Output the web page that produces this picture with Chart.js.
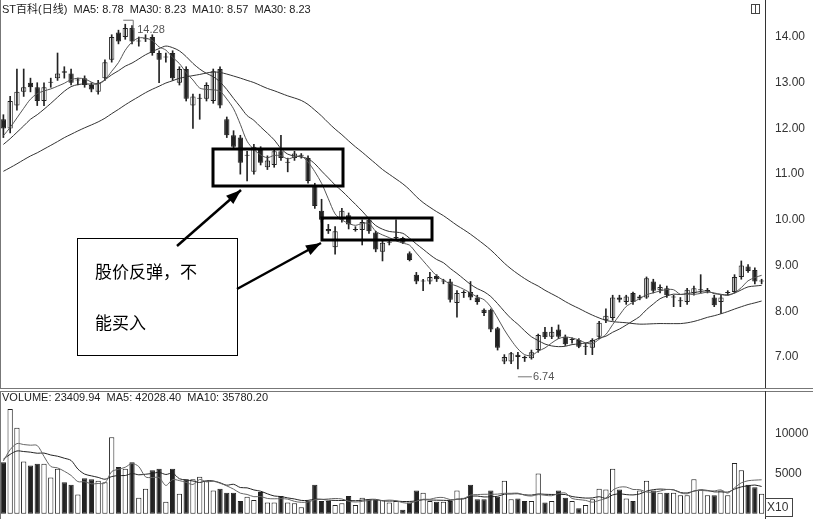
<!DOCTYPE html>
<html><head><meta charset="utf-8">
<script src="https://cdn.jsdelivr.net/npm/chart.js@4"></script>
<style>
body{margin:0;background:#fff;width:813px;height:519px;overflow:hidden;font-family:"Liberation Sans",Arial,sans-serif}
#top{position:absolute;left:0;top:0;width:813px;height:388px}
#bot{position:absolute;left:0;top:391px;width:813px;height:128px}
.sep{position:absolute;left:0;width:813px;height:1px;background:#777}
</style></head><body>
<div id="top"><canvas id="c1"></canvas></div>
<div class="sep" style="top:388px"></div><div class="sep" style="top:391px"></div>
<div id="bot"><canvas id="c2"></canvas></div>
<script>
// candles: open / close / high / low
let opens  = [12.2,12.0,12.5,12.8,13.0,12.9,12.6,13.0,13.1,13.25,13.2,13.05,13.1,12.95,12.8,13.1,13.5,14.1,14.0,14.2,13.9,13.95,14.0,13.65,13.55,13.65,13.0,13.3,12.5,12.65,12.65,12.6,13.3,12.2,11.85,11.8,11.4,11.05,11.55,11.15,11.2,11.5,11.25,11.35,11.4,11.35,10.75,10.2,9.8,9.4,10.0,10.1,9.78,9.78,10.0,9.72,9.3,9.5,9.6,9.6,9.27,8.8,8.65,8.65,8.77,8.65,8.65,8.18,8.4,8.42,8.3,8.03,8.03,7.63,6.9,6.9,7.05,7.0,6.97,7.15,7.55,7.44,7.6,7.44,7.37,7.37,7.22,7.2,7.44,7.8,7.85,8.3,8.2,8.4,8.28,8.3,8.65,8.46,8.5,8.3,8.22,8.2,8.4,8.46,8.44,8.3,8.2,8.4,8.42,8.75,8.98,8.9,8.65];
let closes = [12.0,12.6,12.8,12.9,12.9,12.6,12.9,13.02,13.2,13.22,13.0,13.05,12.95,12.85,13.0,13.45,14.0,13.9,14.2,13.9,13.9,13.97,13.65,13.5,13.55,13.1,13.3,12.65,12.7,12.67,12.95,13.25,12.5,11.85,11.6,11.25,11.4,11.6,11.25,11.3,11.5,11.35,11.27,11.45,11.4,10.85,10.3,10.0,9.75,9.75,10.2,9.9,9.8,9.95,9.75,9.35,9.5,9.5,9.6,9.5,9.12,8.65,8.65,8.75,8.7,8.65,8.25,8.4,8.4,8.3,8.2,7.96,7.6,7.2,7.0,7.08,7.0,6.97,7.1,7.48,7.43,7.55,7.44,7.28,7.37,7.22,7.22,7.37,7.75,7.9,8.3,8.25,8.32,8.2,8.32,8.72,8.45,8.53,8.35,8.3,8.22,8.47,8.5,8.46,8.44,8.13,8.3,8.4,8.75,9.0,8.88,8.65,8.65];
let highs  = [12.3,12.7,13.3,13.3,13.1,13.0,13.0,13.1,13.65,13.35,13.3,13.1,13.15,13.0,13.05,13.5,14.05,14.15,14.28,14.25,14.0,14.05,14.05,13.7,13.65,13.7,13.35,13.35,12.75,12.75,13.0,13.3,13.35,12.25,11.95,11.85,11.5,11.65,11.6,11.4,11.55,11.85,11.35,11.5,11.45,11.4,10.8,10.45,9.9,9.85,10.25,10.15,9.85,10.0,10.05,9.75,9.55,9.55,10.0,9.62,9.3,8.85,8.7,8.85,8.8,8.7,8.7,8.45,8.45,8.65,8.35,8.05,8.05,7.65,7.05,7.1,7.1,7.02,7.15,7.5,7.65,7.65,7.7,7.48,7.42,7.4,7.3,7.4,7.78,8.05,8.35,8.35,8.35,8.42,8.35,8.75,8.7,8.58,8.55,8.35,8.3,8.5,8.55,8.8,8.5,8.35,8.35,8.45,8.8,9.1,9.02,8.95,8.7];
let lows   = [11.8,11.9,12.4,12.7,12.8,12.5,12.5,12.9,13.05,13.1,12.95,12.95,12.9,12.8,12.75,13.05,13.45,13.85,13.95,13.85,13.8,13.9,13.6,13.0,13.45,13.05,12.95,12.6,12.0,12.2,12.6,12.55,12.45,11.8,11.55,11.0,10.85,11.0,11.2,11.1,11.15,11.3,11.05,11.3,11.35,10.8,10.25,9.95,9.7,9.25,9.95,9.8,9.75,9.45,9.7,9.3,9.1,9.45,9.55,9.48,9.1,8.6,8.45,8.6,8.65,8.6,8.2,7.87,8.3,8.25,8.15,7.9,7.55,7.15,6.85,6.85,6.74,6.9,6.95,7.1,7.4,7.4,7.4,7.25,7.3,7.2,7.05,7.05,7.4,7.75,7.8,8.2,8.15,8.15,8.25,8.28,8.4,8.4,8.3,8.1,8.1,8.15,8.35,8.4,8.4,8.1,7.95,8.35,8.4,8.7,8.85,8.6,8.6];
// closes before the first shown day, only used to start the moving averages
let earlierCloses = [10.2,10.3,10.25,10.4,10.5,10.45,10.6,10.7,10.65,10.8,10.85,10.9,10.95,11.0,11.05,11.0,11.1,11.2,11.15,11.3,11.35,11.4,11.5,11.45,11.6,11.7,11.75,11.85,11.9];
// volume (x10)
let volumes = [6400,13000,10700,6500,6000,6200,6200,4500,5600,3900,3600,2400,4400,4300,4100,3900,9500,5800,5600,6400,2000,3100,5400,5600,1500,5600,2500,4300,4300,4600,4100,2900,3100,2600,2600,1600,2100,1700,2700,1400,1400,2200,1400,1300,800,1600,3600,1600,1600,1100,1300,2200,1100,2000,1700,1700,1700,1400,1600,500,1400,2900,2600,1600,1500,1500,1600,2900,2000,3600,1800,1800,2900,2100,4100,1800,1900,1600,1600,5000,1400,1600,2900,2000,1600,700,1100,1800,3100,3000,5600,3000,1900,1600,2900,4100,2900,2600,2600,2600,2300,2300,4300,3000,2300,2300,2900,2300,6300,5400,3600,3300,2500];
let earlierVolumes = [7000,6500,7200,6800,7500,6000,6900,7100,6400];
let priceTicks = [7,8,9,10,11,12,13,14];
let volumeTicks = [5000,10000];

let labels = closes.map((c, i) => "d" + i);

function movingAvg(vals, before, n) {
  let all = before.concat(vals);
  return vals.map((v, i) => {
    let end = before.length + i + 1;
    let part = all.slice(Math.max(0, end - n), end);
    return part.reduce((a, b) => a + b, 0) / part.length;
  });
}

let up = closes.map((c, i) => c >= opens[i]);
let fill = up.map(u => u ? "#fff" : "#222");

let rightAxis = {
  position: "right",
  grid: { display: false, drawTicks: true, tickLength: 4, tickColor: "#333" },
  border: { color: "#333" },
  ticks: { color: "#333", font: { family: "Liberation Sans", size: 12 }, padding: 6 },
  afterFit: (s) => { s.width = 48; s.paddingTop = 0; s.paddingBottom = 0; }
};

let overlay = {
  id: "overlay",
  afterDraw(chart) {
    let ctx = chart.ctx, x = chart.scales.x, y = chart.scales.y;
    ctx.save();
    ctx.fillStyle = "#222";
    ctx.font = "11px 'Liberation Sans', 'Noto Sans CJK SC'";
    ctx.textBaseline = "middle";
    ctx.fillText("ST百科(日线)  MA5: 8.78  MA30: 8.23  MA10: 8.57  MA30: 8.23", 2, 10);
    ctx.strokeStyle = "#444"; ctx.lineWidth = 1;
    ctx.strokeRect(751.5, 4.5, 8, 9);
    ctx.beginPath(); ctx.moveTo(755.5, 4.5); ctx.lineTo(755.5, 13.5); ctx.stroke();
    // high and low marks
    ctx.fillStyle = "#555"; ctx.font = "11px 'Liberation Sans'";
    let hx = x.getPixelForValue(18), hy = y.getPixelForValue(14.28);
    ctx.strokeStyle = "#777";
    ctx.beginPath(); ctx.moveTo(hx - 2, hy - 4); ctx.lineTo(hx + 8, hy - 4); ctx.lineTo(hx + 8, hy + 6); ctx.stroke();
    ctx.fillText("14.28", hx + 12, hy + 6);
    let lx = x.getPixelForValue(76), ly = y.getPixelForValue(6.74);
    ctx.beginPath(); ctx.moveTo(lx, ly + 8); ctx.lineTo(lx + 14, ly + 8); ctx.stroke();
    ctx.fillText("6.74", lx + 15, ly + 8);
    // boxes
    ctx.strokeStyle = "#000"; ctx.lineWidth = 3;
    ctx.strokeRect(213, 149, 130, 37);
    ctx.strokeRect(322, 218, 110, 22);
    ctx.lineWidth = 1;
    ctx.fillStyle = "#fff";
    ctx.fillRect(77.5, 238.5, 160, 117);
    ctx.strokeRect(77.5, 238.5, 160, 117);
    ctx.fillStyle = "#000";
    ctx.font = "17px 'Noto Sans CJK SC'";
    ctx.fillText("股价反弹，不", 95, 272);
    ctx.fillText("能买入", 95, 323);
    // arrows
    function arrow(x1, y1, x2, y2) {
      ctx.lineWidth = 2.5;
      ctx.beginPath(); ctx.moveTo(x1, y1); ctx.lineTo(x2, y2); ctx.stroke();
      let a = Math.atan2(y2 - y1, x2 - x1);
      ctx.beginPath();
      ctx.moveTo(x2, y2);
      ctx.lineTo(x2 - 16 * Math.cos(a - 0.35), y2 - 16 * Math.sin(a - 0.35));
      ctx.lineTo(x2 - 16 * Math.cos(a + 0.35), y2 - 16 * Math.sin(a + 0.35));
      ctx.closePath(); ctx.fill();
    }
    arrow(177, 246, 241, 190);
    arrow(237, 289, 321, 243);
    // left frame
    ctx.lineWidth = 1; ctx.strokeStyle = "#777";
    ctx.beginPath(); ctx.moveTo(0.5, 0); ctx.lineTo(0.5, 388); ctx.stroke();
    ctx.restore();
  }
};

new Chart(document.getElementById("c1"), {
  type: "bar",
  data: {
    labels,
    datasets: [
      { type: "line", data: movingAvg(closes, earlierCloses, 5), borderColor: "#555", borderWidth: 1, pointRadius: 0, tension: 0.3 },
      { type: "line", data: movingAvg(closes, earlierCloses, 10), borderColor: "#333", borderWidth: 1, pointRadius: 0, tension: 0.3 },
      { type: "line", data: movingAvg(closes, earlierCloses, 30), borderColor: "#333", borderWidth: 1, pointRadius: 0, tension: 0.3 },
      { data: lows.map((l, i) => [l, highs[i]]), backgroundColor: "#222", barThickness: 1, grouped: false },
      { data: opens.map((o, i) => [o, closes[i]]), backgroundColor: fill, borderColor: "#222", borderWidth: 1,
        borderSkipped: false, barPercentage: 0.78, categoryPercentage: 1, minBarLength: 1, grouped: false }
    ]
  },
  options: {
    responsive: true, maintainAspectRatio: false, animation: false,
    layout: { padding: 0 },
    plugins: { legend: { display: false }, tooltip: { enabled: false } },
    scales: {
      x: { display: false, offset: true },
      y: Object.assign({}, rightAxis, {
        min: 6.32, max: 14.81,
        afterBuildTicks: (s) => { s.ticks = priceTicks.map(v => ({ value: v })); },
        ticks: Object.assign({}, rightAxis.ticks, { callback: v => v.toFixed(2) })
      })
    }
  },
  plugins: [overlay]
});

let volOverlay = {
  id: "volOverlay",
  afterDraw(chart) {
    let ctx = chart.ctx;
    ctx.save();
    ctx.fillStyle = "#222";
    ctx.font = "11px 'Liberation Sans'";
    ctx.textBaseline = "middle";
    ctx.fillText("VOLUME: 23409.94  MA5: 42028.40  MA10: 35780.20", 2, 7);
    ctx.strokeStyle = "#444"; ctx.lineWidth = 1;
    ctx.fillStyle = "#fff";
    ctx.fillRect(765.5, 107.5, 27, 18); ctx.strokeRect(765.5, 107.5, 27, 18);
    ctx.fillStyle = "#333"; ctx.font = "12px 'Liberation Sans'";
    ctx.fillText("X10", 767, 117);
    ctx.strokeStyle = "#777";
    ctx.beginPath(); ctx.moveTo(0.5, 0); ctx.lineTo(0.5, 128); ctx.stroke();
    ctx.restore();
  }
};

new Chart(document.getElementById("c2"), {
  type: "bar",
  data: {
    labels,
    datasets: [
      { type: "line", data: movingAvg(volumes, earlierVolumes, 5), borderColor: "#666", borderWidth: 1, pointRadius: 0, tension: 0.3 },
      { type: "line", data: movingAvg(volumes, earlierVolumes, 10), borderColor: "#222", borderWidth: 1, pointRadius: 0, tension: 0.3 },
      { data: volumes, backgroundColor: fill, borderColor: "#222", borderWidth: 1, borderSkipped: false,
        barPercentage: 0.78, categoryPercentage: 1 }
    ]
  },
  options: {
    responsive: true, maintainAspectRatio: false, animation: false,
    layout: { padding: 0 },
    plugins: { legend: { display: false }, tooltip: { enabled: false } },
    scales: {
      x: { display: false, offset: true },
      y: Object.assign({}, rightAxis, {
        min: -650, max: 15250,
        afterBuildTicks: (s) => { s.ticks = volumeTicks.map(v => ({ value: v })); },
        ticks: Object.assign({}, rightAxis.ticks, { callback: v => String(v) })
      })
    }
  },
  plugins: [volOverlay]
});
</script>
</body></html>
